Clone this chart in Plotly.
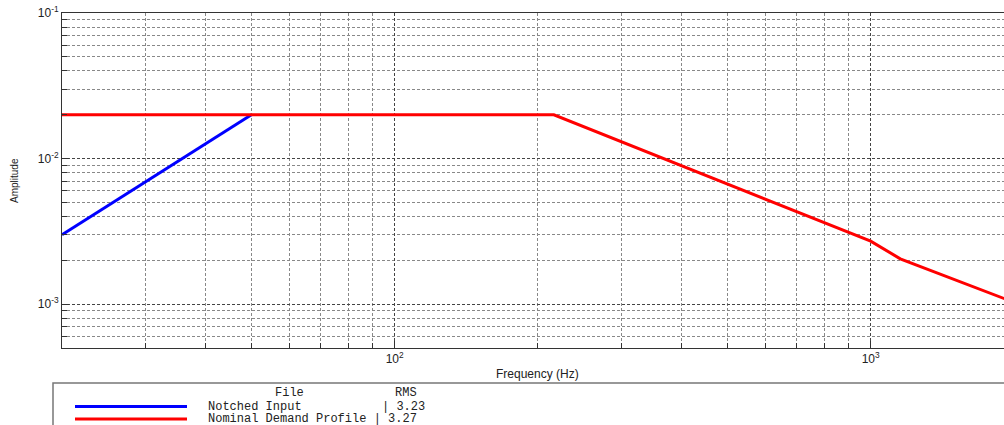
import plotly.graph_objects as go
import numpy as np

# ---- data ----
notched_freq = [20, 50]
notched_amp = [0.003, 0.02]
nominal_freq = [20, 216, 1000, 1154, 2000]
nominal_amp = [0.02, 0.02, 0.00271, 0.00205, 0.00103]

x_major = [100, 1000]
x_major_text = ["10<sup>2</sup>", "10<sup>3</sup>"]
x_minor = [20, 30, 40, 50, 60, 70, 80, 90, 200, 300, 400, 500, 600, 700, 800, 900, 2000]
y_major = [0.001, 0.01, 0.1]
y_major_text = ["10<sup>-3</sup>", "10<sup>-2</sup>", "10<sup>-1</sup>"]
y_minor = [0.0005, 0.0006, 0.0007, 0.0008, 0.0009, 0.002, 0.003, 0.004, 0.005, 0.006, 0.007, 0.008, 0.009,
           0.02, 0.03, 0.04, 0.05, 0.06, 0.07, 0.08, 0.09]

legend_names = ["Notched Input", "Nominal Demand Profile"]
legend_rms = ["3.23", "3.27"]
legend_colors = ["#0000ff", "#ff0000"]

W, H = 1004, 425
L, R, T, B = 62, 0, 13, 77
PW, PH = W - L - R, H - T - B


def px(x):
    return (x - L) / PW


def py(y):
    return 1 - (y - T) / PH


fig = go.Figure()
fig.add_trace(go.Scatter(x=notched_freq, y=notched_amp, mode="lines", name=legend_names[0],
                         line=dict(color=legend_colors[0], width=3), showlegend=False))
fig.add_trace(go.Scatter(x=nominal_freq, y=nominal_amp, mode="lines", name=legend_names[1],
                         line=dict(color=legend_colors[1], width=3), showlegend=False))

grid_major = "#444444"
grid_minor = "#888888"
font_axis = dict(family="Liberation Sans, Arial", size=12, color="#222222")

fig.update_xaxes(type="log", range=[np.log10(20), np.log10(1906)],
                 tickvals=x_major, ticktext=x_major_text, tickfont=font_axis,
                 ticks="inside", ticklen=7, tickcolor="#333333",
                 showgrid=True, gridcolor=grid_major, griddash="3px,2px", gridwidth=1,
                 minor=dict(tickvals=x_minor, ticks="inside", ticklen=5, tickcolor="#333333",
                            showgrid=True, gridcolor=grid_minor, griddash="3px,2px", gridwidth=1),
                 showline=True, linecolor="#333333", linewidth=1, mirror=True, zeroline=False)
fig.update_yaxes(type="log", range=[np.log10(0.0005), np.log10(0.1)],
                 tickvals=y_major, ticktext=y_major_text, tickfont=font_axis,
                 ticks="inside", ticklen=7, tickcolor="#333333",
                 showgrid=True, gridcolor=grid_major, griddash="3px,2px", gridwidth=1,
                 minor=dict(tickvals=y_minor, ticks="inside", ticklen=5, tickcolor="#333333",
                            showgrid=True, gridcolor=grid_minor, griddash="3px,2px", gridwidth=1),
                 showline=True, linecolor="#333333", linewidth=1, mirror=True, zeroline=False)

annotations = [
    dict(text="Frequency (Hz)", x=px(537), y=py(374), xref="paper", yref="paper",
         showarrow=False, font=dict(family="Liberation Sans, Arial", size=12, color="#222222"),
         xanchor="center", yanchor="middle"),
    dict(text="Amplitude", x=px(14), y=py(181), xref="paper", yref="paper", textangle=-90,
         showarrow=False, font=dict(family="Liberation Sans, Arial", size=10, color="#222222"),
         xanchor="center", yanchor="middle"),
]
mono = dict(family="Liberation Mono, Courier New, monospace", size=12, color="#222222")
annotations.append(dict(text="File", x=px(273), y=py(393), xref="paper", yref="paper", showarrow=False,
                        font=mono, xanchor="left", yanchor="middle"))
annotations.append(dict(text="RMS", x=px(393), y=py(393), xref="paper", yref="paper", showarrow=False,
                        font=mono, xanchor="left", yanchor="middle"))

shapes = [dict(type="rect", xref="paper", yref="paper", x0=px(53), x1=px(1010), y0=py(383), y1=py(440),
               line=dict(color="#777777", width=1.5), fillcolor="rgba(0,0,0,0)", layer="above")]
row_y = [406.5, 419]
for i, (name, rms, col, yy) in enumerate(zip(legend_names, legend_rms, legend_colors, row_y)):
    shapes.append(dict(type="line", xref="paper", yref="paper", x0=px(75), x1=px(187), y0=py(yy), y1=py(yy),
                       line=dict(color=col, width=3)))
    if i == 0:
        annotations.append(dict(text=name, x=px(206), y=py(yy), xref="paper", yref="paper", showarrow=False,
                                font=mono, xanchor="left", yanchor="middle"))
        annotations.append(dict(text="| " + rms, x=px(380), y=py(yy), xref="paper", yref="paper",
                                showarrow=False, font=mono, xanchor="left", yanchor="middle"))
    else:
        annotations.append(dict(text=name + " | " + rms, x=px(206), y=py(yy), xref="paper", yref="paper",
                                showarrow=False, font=mono, xanchor="left", yanchor="middle"))

fig.update_layout(width=W, height=H, margin=dict(l=L, r=R, t=T, b=B),
                  plot_bgcolor="white", paper_bgcolor="white",
                  annotations=annotations, shapes=shapes, showlegend=False)

fig.write_html("out.html", config={"displayModeBar": False},
               post_script="document.body.style.margin='0';document.body.style.overflow='hidden';")
